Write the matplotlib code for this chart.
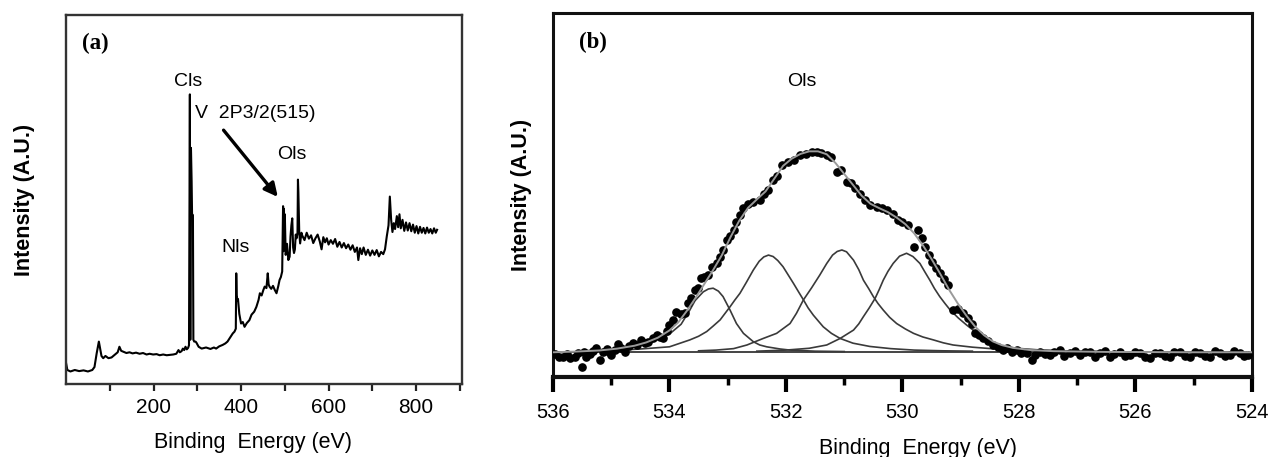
"""
XPS of the vanadium sample
===============================================================================
(a) wide survey scan with the C1s, N1s, V2p3/2 and O1s lines marked
(b) O1s core level: measured points, overall fit, baseline and the four
    fitted components.

Intensities are in arbitrary units (0-100 across the plotted frame).
"""

import matplotlib
matplotlib.use("Agg")
import matplotlib.pyplot as plt

SANS = ["Liberation Sans", "DejaVu Sans"]
SERIF = ["Liberation Serif", "DejaVu Serif"]

# --- (a) survey scan --------------------------------------------------------
survey_be = [0, 3, 10, 20, 30, 40, 50, 60, 65, 70, 75, 78, 81, 85, 90, 97,
             104, 111, 118, 122, 126, 130, 138, 145, 152, 160, 168, 176, 184,
             191, 199, 207, 214, 222, 230, 237, 245, 252, 257, 260, 264, 267,
             270, 273, 276, 279, 281, 283, 284, 285.5, 287, 288, 290, 291, 293,
             296, 298, 303, 310, 320, 330, 338, 343, 350, 358, 364, 369, 375,
             381, 385, 388, 389, 390, 392, 393, 396, 400, 404, 408, 413, 419,
             424, 430, 435, 440, 443, 447, 451, 454, 458, 461, 463, 465, 469,
             473, 477, 481, 485, 488, 491, 494, 496, 497, 498, 499, 500, 502,
             505, 508, 511, 513, 515, 517, 519, 521, 523, 525, 527, 529, 530,
             531, 533, 535, 538,
             540, 545, 550, 555, 560, 565, 570, 575, 580, 584, 588, 592, 596,
             600, 605, 610, 615, 620, 625, 630, 635, 640, 645, 650, 655, 660,
             665, 668, 672, 676, 680, 685, 690, 695, 700, 705, 710, 715, 720,
             725, 729, 733, 737, 740, 743, 746, 749, 752, 756, 759, 762, 765,
             769, 773, 777, 781, 785, 789, 793, 797, 801, 805, 809, 813, 817,
             821, 825, 829, 833, 837, 841, 845, 848]
survey_counts = [5.7, 3.8, 3.4, 3.8, 3.5, 3.7, 3.4, 3.8, 4.6, 8.3, 11.5, 9.5,
                 7.6, 7.0, 7.6, 7.0, 7.2, 7.9, 8.6, 10.1, 9.0, 8.8, 8.4, 8.6,
                 8.3, 8.5, 8.2, 8.4, 8.0, 8.2, 8.0, 8.1, 7.8, 8.0, 7.8, 7.9,
                 8.0, 8.2, 9.2, 8.6, 8.9, 9.6, 9.2, 10.1, 9.4, 9.8, 10.5, 78.5,
                 12.0, 64.0, 55.0, 46.0, 45.8, 12.0, 11.5, 11.5, 11.2, 10.1,
                 9.6, 9.9, 9.5, 9.9, 9.6, 10.2, 10.6, 11.0, 11.5, 12.6, 13.7,
                 14.2, 15.0, 30.0, 24.0, 22.5, 23.0, 19.0, 16.4, 16.8, 15.5,
                 16.5, 17.3, 18.8, 19.6, 20.9, 22.8, 24.6, 24.0, 25.5, 26.4,
                 26.0, 30.0, 27.0, 26.4, 25.8, 26.6, 25.5, 24.6, 26.5, 28.2,
                 29.0, 30.5, 48.2, 36.0, 47.5, 38.0, 46.0, 35.0, 38.0, 33.6,
                 34.5, 40.0, 43.0, 44.9, 37.0, 35.5, 36.5, 40.5, 39.5, 41.0,
                 55.4, 52.0, 41.0, 38.1, 41.0,
                 40.2, 39.0, 41.0, 39.4, 40.3, 38.2, 39.5, 40.5, 38.6, 36.5,
                 39.8, 38.4, 39.5, 37.8, 39.0, 38.0, 39.3, 37.2, 38.5, 37.0,
                 38.2, 36.8, 37.8, 36.4, 37.6, 35.8, 37.0, 33.6, 36.8, 35.2,
                 37.0, 35.0, 36.4, 34.8, 36.2, 35.0, 36.3, 34.6, 35.8, 35.2,
                 36.5, 40.0, 43.0, 50.8, 44.5, 41.2, 43.6, 42.0, 45.5, 42.5,
                 46.0, 42.2, 44.5, 41.5, 43.8, 41.6, 43.6, 41.4, 43.2, 41.0,
                 42.8, 40.8, 42.6, 41.0, 42.3, 40.8, 42.4, 41.0, 42.0, 40.8,
                 42.2, 41.0, 41.8]

# --- (b) O1s region: measured points ---------------------------------------
o1s_be = [535.97, 535.90, 535.83, 535.76, 535.70, 535.63, 535.57, 535.51,
          535.46, 535.43, 535.37, 535.32, 535.26, 535.20, 535.14, 535.08,
          535.03, 535.00, 534.94, 534.88, 534.83, 534.77, 534.70, 534.63,
          534.56, 534.48, 534.42, 534.37, 534.28, 534.22, 534.17, 534.11,
          534.05, 534.00, 533.94, 533.88, 533.81, 533.74, 533.68, 533.63,
          533.56, 533.51, 533.45, 533.40, 533.34, 533.27, 533.19, 533.13,
          533.08, 533.02, 532.96, 532.90, 532.85, 532.79, 532.73, 532.65,
          532.56, 532.45, 532.37, 532.30, 532.22, 532.16, 532.07, 531.97,
          531.87, 531.76, 531.66, 531.56, 531.47, 531.39, 531.30, 531.22,
          531.13, 531.05, 530.96, 530.89, 530.82, 530.73, 530.64, 530.55,
          530.44, 530.35, 530.27, 530.17, 530.07, 530.00, 529.90, 529.81,
          529.73, 529.66, 529.61, 529.55, 529.50, 529.43, 529.36, 529.28,
          529.21, 529.13, 529.05, 528.96, 528.88, 528.81, 528.75, 528.68,
          528.61, 528.53, 528.44, 528.36, 528.27, 528.20, 528.12, 528.04,
          527.96, 527.87, 527.78, 527.72, 527.64, 527.56, 527.47, 527.39,
          527.30, 527.22, 527.12, 527.04, 526.95, 526.87, 526.78, 526.70,
          526.61, 526.53, 526.44, 526.36, 526.27, 526.18, 526.09, 526.01,
          525.92, 525.84, 525.75, 525.67, 525.58, 525.50, 525.41, 525.33,
          525.24, 525.15, 525.06, 524.98, 524.89, 524.81, 524.72, 524.64,
          524.55, 524.47, 524.38, 524.30, 524.21, 524.13, 524.06]
o1s_counts = [6.2, 5.4, 5.6, 6.4, 5.2, 5.6, 6.6, 2.8, 6.8, 5.6, 6.2, 7.2,
              7.9, 4.7, 7.0, 7.6, 6.8, 6.0, 7.4, 9.1, 8.0, 7.0, 8.4, 9.3,
              8.8, 10.2, 9.4, 9.7, 10.6, 11.5, 11.1, 10.6, 12.6, 14.3, 15.8,
              17.9, 17.2, 17.5, 20.2, 21.6, 23.8, 24.4, 27.1, 27.4, 27.9,
              30.2, 31.2, 33.1, 34.9, 37.6, 38.8, 40.4, 42.7, 44.6, 46.3,
              47.4, 48.2, 48.6, 50.2, 51.5, 54.1, 55.2, 58.2, 59.0, 59.6,
              61.0, 61.3, 61.9, 61.7, 61.5, 61.0, 60.5, 56.4, 56.8, 53.7,
              53.2, 51.8, 50.2, 48.6, 47.2, 46.8, 46.3, 45.9, 44.8, 43.1,
              42.5, 41.8, 35.8, 40.4, 38.2, 35.8, 33.5, 31.7, 30.0, 28.5,
              27.0, 25.3, 18.4, 18.8, 17.5, 16.2, 14.7, 12.0, 11.6, 10.6,
              9.8, 8.8, 8.2, 7.4, 7.9, 6.8, 7.4, 6.6, 6.5, 4.7, 6.0, 7.0,
              6.2, 6.0, 7.0, 7.4, 5.8, 6.5, 7.2, 6.0, 6.8, 7.0, 5.6, 6.5,
              7.2, 5.6, 6.4, 7.0, 5.8, 6.0, 6.9, 6.5, 5.4, 5.1, 6.6, 6.5,
              5.9, 5.6, 6.8, 7.0, 5.7, 5.6, 6.9, 6.5, 5.8, 5.6, 7.1, 6.5,
              5.9, 6.0, 7.2, 6.5, 5.8, 6.0]

# overall fit envelope
fit_be = [536.0, 535.6, 535.2, 534.9, 534.6, 534.4, 534.2, 534.0, 533.85,
          533.7, 533.55, 533.4, 533.25, 533.1, 532.95, 532.8, 532.65, 532.5,
          532.35, 532.2, 532.05, 531.9, 531.75, 531.6, 531.45, 531.3, 531.15,
          531.0, 530.85, 530.7, 530.55, 530.4, 530.25, 530.1, 529.95, 529.8,
          529.65, 529.5, 529.35, 529.2, 529.05, 528.9, 528.75, 528.6, 528.45,
          528.3, 528.1, 527.8, 527.4, 526.5, 525.0, 524.0]
fit_counts = [6.8, 7.0, 7.3, 7.8, 8.6, 9.5, 10.8, 12.8, 15.0, 18.2, 21.8,
              25.6, 29.4, 33.5, 38.5, 43.0, 46.5, 48.8, 51.0, 54.5, 58.0,
              60.0, 61.3, 62.0, 62.0, 61.2, 58.8, 55.8, 52.8, 49.8, 47.6,
              46.4, 45.3, 43.8, 42.0, 39.5, 36.2, 32.4, 28.3, 24.0, 20.2,
              16.8, 13.8, 11.5, 9.8, 8.8, 8.0, 7.4, 7.1, 6.9, 6.8, 6.8]

# fitted components
comp1_be = [535.5, 535.0, 534.6, 534.3, 534.0, 533.8, 533.65, 533.56, 533.42,
            533.33, 533.25, 533.16, 533.08, 532.96, 532.85, 532.73, 532.56,
            532.45, 532.33, 532.1, 531.93, 531.5, 531.0]
comp1_counts = [7.2, 7.5, 8.2, 9.6, 11.8, 14.5, 18.4, 21.0, 23.4, 24.2, 24.4,
                23.6, 22.1, 18.4, 14.7, 12.0, 9.7, 8.8, 8.3, 7.7, 7.4, 7.1,
                7.0]

comp2_be = [535.5, 535.0, 534.5, 534.0, 533.65, 533.5, 533.36, 533.25,
            533.13, 533.05, 532.96, 532.88, 532.79, 532.68, 532.56, 532.46,
            532.38, 532.30, 532.22, 532.14, 532.05, 531.96, 531.87, 531.78,
            531.70, 531.62, 531.53, 531.44, 531.36, 531.22, 531.07, 530.85,
            530.56, 530.2, 529.8, 529.3, 528.8]
comp2_counts = [7.1, 7.3, 7.7, 8.3, 10.2, 11.2, 12.5, 14.0, 15.7, 17.4, 19.3,
                21.1, 23.0, 26.0, 29.4, 31.8, 33.0, 33.5, 33.1, 32.0, 30.3,
                28.0, 25.7, 23.3, 21.2, 19.0, 17.0, 15.3, 13.8, 12.0, 10.6,
                9.3, 8.4, 7.8, 7.4, 7.2, 7.1]

comp3_be = [533.5, 533.2, 532.9, 532.67, 532.39, 532.16, 531.93, 531.82,
            531.70, 531.56, 531.42, 531.30, 531.20, 531.12, 531.04, 530.96,
            530.84, 530.75, 530.67, 530.58, 530.50, 530.42, 530.33, 530.22,
            530.10, 529.95, 529.81, 529.65, 529.47, 529.30, 529.13, 528.8,
            528.4, 528.0, 527.5]
comp3_counts = [7.2, 7.4, 7.8, 8.8, 10.6, 12.0, 14.7, 17.5, 21.2, 24.5, 28.0,
                31.2, 33.5, 34.5, 34.9, 34.4, 32.1, 29.5, 26.6, 24.3, 22.1,
                20.2, 18.4, 16.4, 14.7, 13.2, 12.0, 11.0, 10.2, 9.4, 8.8, 8.2,
                7.7, 7.4, 7.2]

comp4_be = [532.5, 532.0, 531.6, 531.30, 531.07, 530.95, 530.84, 530.75,
            530.67, 530.57, 530.47, 530.40, 530.33, 530.25, 530.16, 530.05,
            529.93, 529.82, 529.70, 529.62, 529.53, 529.45, 529.36, 529.27,
            529.18, 529.04, 528.90, 528.70, 528.50, 528.30, 528.04, 527.7,
            527.2, 526.5]
comp4_counts = [7.1, 7.4, 7.9, 8.8, 10.6, 11.8, 12.9, 14.6, 16.6, 19.0, 21.6,
                24.0, 26.6, 29.0, 31.2, 33.2, 34.0, 33.1, 31.2, 29.0, 26.6,
                24.3, 22.1, 20.2, 18.4, 16.2, 14.3, 11.8, 9.7, 8.6, 7.9, 7.5,
                7.2, 7.05]

baseline_be = [535.9, 524.1]
baseline_counts = [6.9, 6.9]

component_sets = [(comp1_be, comp1_counts), (comp2_be, comp2_counts),
                  (comp3_be, comp3_counts), (comp4_be, comp4_counts)]


def style_frame(ax, lw, color):
    for side in ("top", "right", "left", "bottom"):
        ax.spines[side].set_linewidth(lw)
        ax.spines[side].set_color(color)
    ax.set_yticks([])


def panel_survey(ax):
    ax.plot(survey_be, survey_counts, color="black", lw=1.5)
    ax.set_xlim(0, 905)
    ax.set_ylim(0, 100)
    ax.set_xticks([200, 400, 600, 800])
    ax.set_xticks([100, 300, 500, 700, 900], minor=True)
    ax.tick_params(axis="x", which="both", direction="out", length=5,
                   width=1.6, pad=5, labelsize=15, color="#222222")
    for lab in ax.get_xticklabels():
        lab.set_family(SANS)
    style_frame(ax, 1.7, "#333333")

    ax.set_ylabel("Intensity (A.U.)", family=SANS, fontsize=15.5,
                  fontweight="bold")
    ax.yaxis.set_label_coords(-0.078, 0.5)
    ax.set_xlabel("Binding  Energy (eV)", family=SANS, fontsize=15.5)
    ax.xaxis.set_label_coords(0.472, -0.13)

    ax.text(0.073, 0.924, "(a)", transform=ax.transAxes, family=SERIF,
            fontsize=16.5, fontweight="bold", ha="center", va="center")
    ax.text(278, 82.1, "Cls", family=SANS, fontsize=14, ha="center",
            va="center")
    ax.text(294, 73.4, "V  2P3/2(515)", family=SANS, fontsize=14,
            ha="left", va="center")
    ax.text(515, 62.1, "Ols", family=SANS, fontsize=14, ha="center",
            va="center")
    ax.text(388, 36.9, "Nls", family=SANS, fontsize=14, ha="center",
            va="center")
    ax.annotate("", xy=(484, 50.7), xytext=(360, 68.8),
                arrowprops=dict(arrowstyle="-|>", lw=2.4, color="black",
                                mutation_scale=20, shrinkA=0, shrinkB=0))


def panel_o1s(ax):
    ax.plot(baseline_be, baseline_counts, color="#444444", lw=1.4, zorder=2)
    for be, counts in component_sets:
        ax.plot(be, counts, color="#3a3a3a", lw=1.2, zorder=3)
    ax.plot(o1s_be, o1s_counts, "o", color="black", ms=5.2, mec="black",
            zorder=4)
    ax.plot(fit_be, fit_counts, color="#9a9a9a", lw=1.4, zorder=5)

    ax.set_xlim(536, 524)
    ax.set_ylim(0, 100)
    ax.set_xticks([536, 534, 532, 530, 528, 526, 524])
    ax.set_xticks([535, 533, 531, 529, 527, 525], minor=True)
    ax.tick_params(axis="x", which="major", direction="out", length=11,
                   width=3, pad=8, labelsize=14.5, color="black")
    ax.tick_params(axis="x", which="minor", direction="out", length=6,
                   width=2.5, color="black")
    for lab in ax.get_xticklabels():
        lab.set_family(SANS)
    style_frame(ax, 2.2, "#111111")
    ax.spines["bottom"].set_linewidth(3)

    ax.set_ylabel("Intensity (A.U.)", family=SANS, fontsize=15.5,
                  fontweight="bold")
    ax.yaxis.set_label_coords(-0.030, 0.5)
    ax.set_xlabel("Binding  Energy (eV)", family=SANS, fontsize=15.5)
    ax.xaxis.set_label_coords(0.522, -0.168)

    ax.text(0.057, 0.918, "(b)", transform=ax.transAxes, family=SERIF,
            fontsize=16.5, fontweight="bold", ha="center", va="center")
    ax.text(531.73, 81.1, "Ols", family=SANS, fontsize=14, ha="center",
            va="center")


def main():
    fig = plt.figure(figsize=(12.7, 4.57), dpi=100)
    ax_a = fig.add_axes([0.052, 0.1597, 0.3118, 0.8074])
    ax_b = fig.add_axes([0.4354, 0.175, 0.5504, 0.7965])
    panel_survey(ax_a)
    panel_o1s(ax_b)
    fig.savefig("out.png", dpi=100)
    plt.close(fig)


if __name__ == "__main__":
    main()
